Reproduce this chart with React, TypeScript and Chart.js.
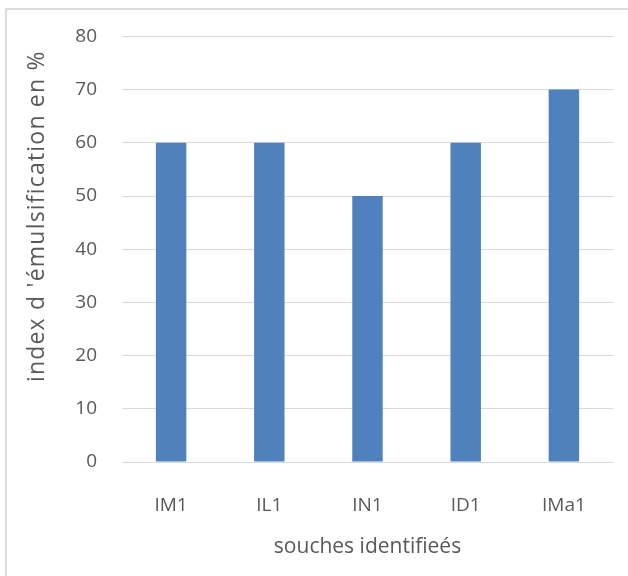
import React, { useEffect, useRef } from "react";
import { Chart, registerables } from "chart.js";

Chart.register(...registerables);

// Emulsification index per identified strain
const categories = ["IM1", "IL1", "IN1", "ID1", "IMa1"];
const emulsificationIndex = [60, 60, 50, 60, 70];
const yMin = 0;
const yMax = 80;
const yStep = 10;

const xTitle = "souches identifieés";
const yTitle = "index d 'émulsification en %";

const TEXT_COLOR = "#595959";
const GRID_COLOR = "#d9d9d9";
const BAR_COLOR = "#4f81bd";
const FONT = "'Open Sans', 'DejaVu Sans', sans-serif";

// Thin light frame along the top and left edges
const framePlugin = {
  id: "frame",
  beforeDraw(chart: any) {
    const { ctx, width, height } = chart;
    ctx.save();
    ctx.fillStyle = "#ffffff";
    ctx.fillRect(0, 0, width, height);
    ctx.fillStyle = "#dcdcdc";
    ctx.fillRect(5, 8, 2, height - 8);
    ctx.fillRect(5, 8, width - 5, 2);
    ctx.restore();
  },
};

// Vertical axis title, drawn rotated and placed a little above the plot centre
const yTitlePlugin = {
  id: "yTitle",
  afterDraw(chart: any) {
    const { ctx, chartArea } = chart;
    const cy = (chartArea.top + chartArea.bottom) / 2 - 33;
    ctx.save();
    ctx.translate(44, cy);
    ctx.rotate(-Math.PI / 2);
    ctx.font = `23px ${FONT}`;
    (ctx as any).letterSpacing = "1.2px";
    ctx.fillStyle = TEXT_COLOR;
    ctx.textAlign = "center";
    ctx.textBaseline = "alphabetic";
    ctx.fillText(yTitle, 0, 0);
    ctx.restore();
  },
};

export default function App() {
  const canvasRef = useRef<HTMLCanvasElement | null>(null);

  useEffect(() => {
    const canvas = canvasRef.current;
    if (!canvas) return;
    const chart = new Chart(canvas, {
      type: "bar",
      data: {
        labels: categories,
        datasets: [
          {
            data: emulsificationIndex,
            backgroundColor: BAR_COLOR,
            borderWidth: 0,
            barPercentage: 0.31,
            categoryPercentage: 1.0,
          },
        ],
      },
      options: {
        responsive: false,
        animation: false,
        devicePixelRatio: 1,
        layout: { padding: { top: 35, right: 15, bottom: 0, left: 0 } },
        plugins: {
          legend: { display: false },
          tooltip: { enabled: false },
          title: { display: false },
        },
        scales: {
          x: {
            grid: { display: false },
            border: { display: false },
            ticks: {
              color: TEXT_COLOR,
              font: { family: FONT, size: 19 },
              padding: 24,
            },
            title: {
              display: true,
              text: xTitle,
              color: TEXT_COLOR,
              font: { family: FONT, size: 21 },
              padding: { top: 0, bottom: 16 },
            },
            afterFit(scale: any) {
              scale.height = 114;
            },
          },
          y: {
            min: yMin,
            max: yMax,
            ticks: {
              stepSize: yStep,
              color: TEXT_COLOR,
              font: { family: FONT, size: 19 },
              padding: 25,
            },
            grid: {
              color: GRID_COLOR,
              lineWidth: 1,
              drawTicks: false,
            },
            border: { display: false },
            title: { display: false },
            afterFit(scale: any) {
              scale.width = 122;
            },
          },
        },
      },
      plugins: [framePlugin, yTitlePlugin],
    });
    return () => chart.destroy();
  }, []);

  return (
    <div style={{ position: "absolute", left: 0, top: 0, width: 628, height: 576 }}>
      <canvas ref={canvasRef} width={628} height={576} />
    </div>
  );
}
